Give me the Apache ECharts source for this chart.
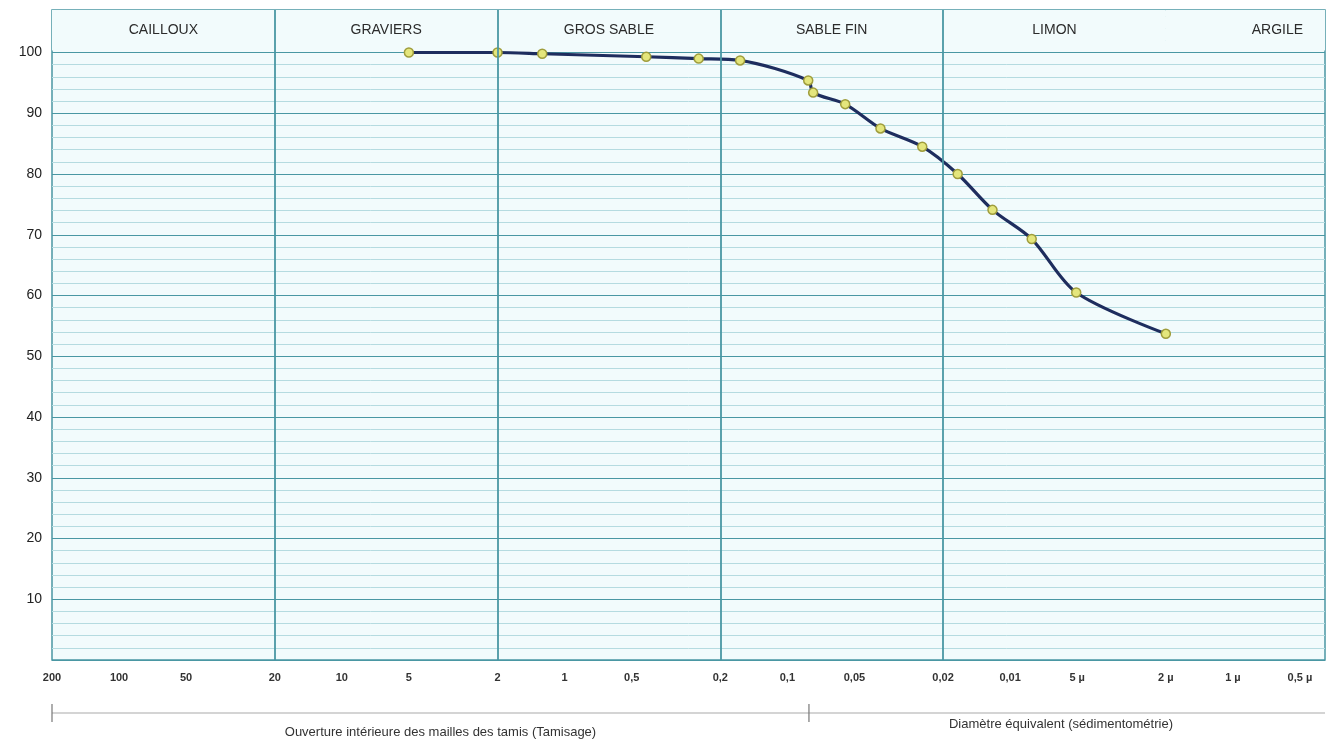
<!DOCTYPE html>
<html>
<head>
<meta charset="utf-8">
<title>Courbe granulométrique</title>
<script src="https://cdn.jsdelivr.net/npm/echarts@6/dist/echarts.min.js"></script>
<style>
  html, body { margin: 0; padding: 0; background: #fff; }
  #granuloChart { width: 1331px; height: 743px; }
</style>
</head>
<body>
<div id="granuloChart"></div>
<script>
// diamètres en mm, passants cumulés en %
var diametres = [5, 2, 1.26, 0.43, 0.25, 0.163, 0.0806, 0.0766, 0.055, 0.0382, 0.0248, 0.0172, 0.012, 0.008, 0.00505, 0.002];
var passants = [100, 100, 99.8, 99.3, 99.0, 98.7, 95.4, 93.4, 91.5, 87.5, 84.5, 80.0, 74.1, 69.3, 60.5, 53.7];

var tickValues = [200, 100, 50, 20, 10, 5, 2, 1, 0.5, 0.2, 0.1, 0.05, 0.02, 0.01, 0.005, 0.002, 0.001, 0.0005];
var tickLabels = ['200', '100', '50', '20', '10', '5', '2', '1', '0,5', '0,2', '0,1', '0,05', '0,02', '0,01', '5 µ', '2 µ', '1 µ', '0,5 µ'];

var zoneNames = ['CAILLOUX', 'GRAVIERS', 'GROS SABLE', 'SABLE FIN', 'LIMON', 'ARGILE'];
var zoneLimits = [200, 20, 2, 0.2, 0.02, 0.002, 0.000386];

var sieveLimit = 0.08; // tamisage / sédimentométrie
var methodLabels = ['Ouverture intérieure des mailles des tamis (Tamisage)', 'Diamètre équivalent (sédimentométrie)'];

var gridColor = '#4a97a3';
var fineColor = '#b5dbe0';
var paper = '#f2fbfc';
var font = 'Liberation Sans, Arial, sans-serif';

function labelFor(v) {
  var best = 0, dist = Infinity;
  tickValues.forEach(function (t, i) {
    var d = Math.abs(Math.log10(t) - Math.log10(v));
    if (d < dist) { dist = d; best = i; }
  });
  return tickLabels[best];
}

var zoneAreas = zoneNames.map(function (name, i) {
  return [
    { name: name, xAxis: zoneLimits[i], yAxis: 100.35,
      label: { offset: [name === 'ARGILE' ? 32 : 0, 0] } },
    { xAxis: zoneLimits[i + 1], yAxis: 107 }
  ];
});

var boundLines = zoneLimits.slice(1, 6).map(function (v) { return { xAxis: v }; });

var chart = echarts.init(document.getElementById('granuloChart'));
chart.setOption({
  animation: false,
  textStyle: { fontFamily: font },
  grid: {
    left: 52, right: 6, top: 10, bottom: 83,
    show: true, backgroundColor: paper, borderColor: gridColor, borderWidth: 1.5
  },
  xAxis: {
    type: 'log',
    logBase: 10,
    inverse: true,
    min: zoneLimits[6],
    max: 200,
    axisLine: { show: false },
    axisTick: { show: false },
    splitLine: { show: false },
    axisLabel: {
      customValues: tickValues,
      formatter: labelFor,
      margin: 12,
      fontSize: 11,
      fontWeight: 'bold',
      color: '#333'
    }
  },
  yAxis: {
    type: 'value',
    min: 0,
    max: 107,
    interval: 10,
    axisLine: { show: false },
    axisTick: { show: false },
    axisLabel: {
      margin: 10,
      fontSize: 14,
      color: '#222',
      formatter: function (v) { return (v > 0 && v <= 100) ? String(v) : ''; }
    },
    splitLine: { lineStyle: { color: gridColor, width: 1.2 } },
    minorTick: { show: false, splitNumber: 5 },
    minorSplitLine: { show: true, lineStyle: { color: fineColor, width: 1 } }
  },
  series: [
    {
      name: 'zones',
      type: 'line',
      data: [],
      z: 1,
      silent: true,
      markArea: {
        silent: true,
        itemStyle: { color: paper, opacity: 1 },
        label: { show: true, position: 'inside', fontSize: 14, color: '#2b2b2b' },
        data: zoneAreas
      }
    },
    {
      name: 'limites',
      type: 'line',
      data: [],
      z: 2,
      silent: true,
      markLine: {
        silent: true,
        symbol: 'none',
        label: { show: false },
        lineStyle: { color: gridColor, type: 'solid', width: 1.8 },
        data: boundLines
      }
    },
    {
      name: 'Passants',
      type: 'line',
      z: 3,
      smooth: 0.3,
      data: diametres.map(function (d, i) { return [d, passants[i]]; }),
      lineStyle: { color: '#1e2d5e', width: 3.2 },
      symbol: 'circle',
      symbolSize: 9,
      itemStyle: { color: '#e4e67c', borderColor: '#9f9d3c', borderWidth: 1.5 }
    }
  ]
});

// annotation sous l'axe : tamisage / sédimentométrie
var xStart = chart.convertToPixel({ xAxisIndex: 0 }, 200);
var xSplit = chart.convertToPixel({ xAxisIndex: 0 }, sieveLimit);
var xEnd = chart.convertToPixel({ xAxisIndex: 0 }, zoneLimits[6]);
var yLine = 713;
chart.setOption({
  graphic: [
    { type: 'line', shape: { x1: xStart, y1: yLine, x2: xEnd, y2: yLine }, style: { stroke: '#aaa', lineWidth: 1.2 } },
    { type: 'line', shape: { x1: xStart, y1: yLine - 9, x2: xStart, y2: yLine + 9 }, style: { stroke: '#777', lineWidth: 1.2 } },
    { type: 'line', shape: { x1: xSplit, y1: yLine - 9, x2: xSplit, y2: yLine + 9 }, style: { stroke: '#777', lineWidth: 1.2 } },
    { type: 'text', x: (xStart + xSplit) / 2 + 10, y: yLine + 19,
      style: { text: methodLabels[0], fontSize: 13, fill: '#333', align: 'center', verticalAlign: 'middle', fontFamily: font } },
    { type: 'text', x: (xSplit + xEnd) / 2 - 6, y: yLine + 11,
      style: { text: methodLabels[1], fontSize: 13, fill: '#333', align: 'center', verticalAlign: 'middle', fontFamily: font } }
  ]
});
</script>
</body>
</html>
